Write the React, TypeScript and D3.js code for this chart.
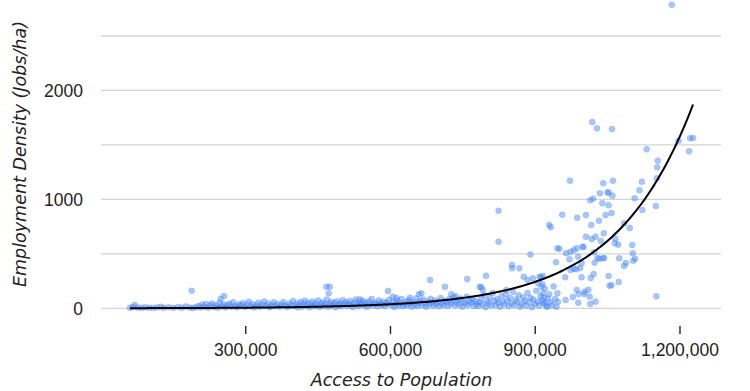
import React from "react";
import * as d3 from "d3";

// Access to population (thousands of people) for each zone
const accessK: number[] = [
  60, 66, 70, 76, 84, 92, 100, 108, 116, 124, 130, 140, 150, 160, 168, 176, 184, 190, 196, 188,
  248, 255,
  202, 206, 210, 214, 218, 222, 226, 230, 234, 238, 242, 246, 250, 254, 258, 262, 266, 270, 274, 278,
  282, 286, 290, 294, 298, 302, 306, 310, 314, 318, 322, 326, 330, 334, 338, 342, 346, 350, 354, 358,
  362, 366, 370, 374, 378, 382, 386, 390, 394, 398,
  467, 474, 472, 536, 595, 605, 612,
  402, 405, 408, 411, 414, 417, 420, 423, 426, 429, 432, 435, 438, 441, 444, 447, 450, 453, 456, 459,
  462, 465, 468, 471, 474, 477, 480, 483, 486, 489, 492, 495, 498, 501, 504, 507, 510, 513, 516, 519,
  522, 525, 528, 531, 534, 537, 540, 543, 546, 549, 552, 555, 558, 561, 564, 567, 570, 573, 576, 579,
  582, 585, 588, 591, 594, 597,
  640, 659, 664, 682, 713, 726, 735, 759,
  602, 605, 608, 611, 614, 617, 620, 623, 626, 629, 632, 635, 638, 641, 644, 647, 650, 653, 656, 659,
  662, 665, 668, 671, 674, 677, 680, 683, 686, 689, 692, 695, 698, 701, 704, 707, 710, 713, 716, 719,
  722, 725, 728, 731, 734, 737, 740, 743, 746, 749, 752, 755, 758, 761, 764, 767, 770, 773, 776, 779,
  824, 824, 785, 788, 791, 798, 840, 852, 852, 867, 876, 884, 890, 895, 909, 916, 906, 913, 916, 929,
  932, 943, 946, 946,
  782, 785, 788, 791, 794, 797, 800, 803, 806, 809, 812, 815, 818, 821, 824, 827, 830, 833, 836, 839,
  842, 845, 848, 851, 854, 857, 860, 863, 866, 869, 872, 875, 878, 881, 884, 887, 890, 893, 896, 899,
  902, 905, 908, 911, 914, 917, 920, 923, 926, 929, 932, 935, 938, 941, 944, 947,
  912, 915, 918, 920, 925,
  1183, 1018, 1028, 1059, 1131, 1197, 1221, 1227, 1219, 1154, 1153, 1152, 972, 1041, 1061, 1121,
  1034, 1050, 1052, 1060, 1116, 1106, 1014, 1020, 1039, 1052, 956, 987, 1005, 1046, 1058, 1122, 1150,
  1016, 1032, 1084, 1096, 1005, 1017, 1025, 1036, 1042, 1066, 1065, 1072, 1101, 950, 964, 973, 980,
  986, 998, 1000, 989, 971, 996, 1022, 1029, 1033, 1040, 1043, 1023, 1074, 1103, 1107, 1102, 1088,
  1084, 973, 980, 993, 985, 962, 996, 1015, 1021, 1052, 1073, 1054, 1058, 986, 990, 1002, 1010, 1002,
  978, 963, 989, 1013, 1014, 1025, 1151,
];

// Employment density (jobs per hectare) for each zone, same order
const density: number[] = [
  5, 12, 30, 8, 4, 10, 6, 3, 8, 14, 5, 10, 4, 12, 6, 16, 8, 2, 10, 160,
  88, 113,
  20, 8, 35, 14, 40, 5, 25, 45, 12, 30, 6, 50, 18, 35, 8, 28, 42, 15, 55, 22,
  10, 38, 25, 48, 12, 30, 60, 18, 40, 8, 26, 52, 15, 35, 62, 20, 45, 10, 30, 55,
  22, 40, 14, 32, 58, 25, 12, 44, 28, 66,
  198, 198, 138, 83, 159, 106, 95,
  20, 45, 8, 32, 60, 15, 40, 70, 25, 50, 10, 35, 62, 18, 45, 28, 72, 12, 38, 55,
  22, 42, 80, 15, 35, 58, 25, 48, 10, 65, 30, 45, 18, 75, 38, 55, 22, 42, 68, 30,
  12, 50, 80, 35, 20, 58, 40, 70, 25, 48, 15, 62, 35, 85, 28, 52, 40, 18, 72, 45,
  30, 60, 22, 50, 38, 78,
  97, 129, 138, 260, 198, 129, 110, 269,
  30, 55, 12, 42, 70, 25, 48, 85, 18, 38, 60, 28, 75, 45, 15, 58, 35, 90, 22, 50,
  68, 30, 80, 42, 15, 62, 35, 88, 50, 25, 72, 40, 58, 18, 95, 45, 30, 70, 55, 22,
  85, 40, 62, 100, 28, 50, 75, 35, 90, 15, 60, 45, 105, 30, 70, 52, 88, 20, 65, 40,
  896, 611, 198, 193, 168, 299, 168, 397, 367, 367, 290, 260, 494, 275, 290, 297, 230, 198, 138, 765,
  744, 422, 551, 138,
  20, 55, 90, 35, 120, 10, 65, 45, 100, 25, 140, 70, 30, 85, 50, 15, 110, 60, 35, 130,
  75, 20, 95, 45, 150, 30, 80, 60, 120, 15, 40, 100, 70, 25, 140, 55, 95, 10, 80, 40,
  160, 60, 25, 110, 75, 45, 180, 20, 90, 130, 55, 30, 200, 85, 15, 60,
  285, 220, 100, 50, 15,
  2787, 1710, 1652, 1646, 1460, 1539, 1561, 1563, 1441, 1355, 1294, 1193, 1171, 1148, 1171, 1162,
  1056, 1065, 1061, 1034, 1083, 1010, 991, 1006, 964, 946, 859, 832, 856, 856, 875, 902, 939,
  765, 804, 780, 737, 657, 636, 657, 618, 689, 639, 597, 584, 581, 547, 505, 520, 532,
  551, 565, 563, 474, 450, 413, 514, 462, 455, 459, 462, 419, 459, 437, 455, 505, 416,
  388, 352, 364, 370, 358, 285, 285, 278, 315, 297, 241, 207, 211, 168, 131, 131, 171, 152,
  104, 76, 51, 106, 39, 61, 110,
];

// Exponential trend line: density = A * exp(B * access)
const TREND_A = 0.885;
const TREND_B = 6.24e-6;

const xTicks: number[] = [300000, 600000, 900000, 1200000];
const yGrid: number[] = [0, 500, 1000, 1500, 2000, 2500];
const yLabels: number[] = [0, 1000, 2000];

const W = 750;
const H = 391;

export default function App() {
  const x = d3.scaleLinear().domain([0, 1285000]).range([101, 721]);
  const y = d3.scaleLinear().domain([0, 2500]).range([308.3, 36]);

  const points = accessK.map((a, i) => ({ a: a * 1000, d: density[i] }));
  const [xMin, xMax] = d3.extent(points, (p) => p.a) as [number, number];
  const trendPts = d3.range(0, 201).map((k) => {
    const a = xMin + ((xMax - xMin) * k) / 200;
    return [a, TREND_A * Math.exp(TREND_B * a)] as [number, number];
  });
  const line = d3
    .line<[number, number]>()
    .x((p) => x(p[0]))
    .y((p) => y(p[1]))
    .curve(d3.curveMonotoneX);

  const fmt = d3.format(",");

  return (
    <svg
      width={W}
      height={H}
      style={{ position: "absolute", left: 0, top: 0, background: "#fff" }}
    >
      {yGrid.map((v) => (
        <line
          key={v}
          x1={x.range()[0]}
          x2={x.range()[1]}
          y1={y(v)}
          y2={y(v)}
          stroke="#d4d4d4"
          strokeWidth={1.3}
        />
      ))}
      {yLabels.map((v) => (
        <text
          key={v}
          x={83}
          y={y(v)}
          dy="0.36em"
          textAnchor="end"
          fontFamily="'Liberation Sans', Arial, sans-serif"
          fontSize={17.5}
          fill="#222"
        >
          {v}
        </text>
      ))}
      {xTicks.map((v) => (
        <g key={v}>
          <line x1={x(v)} x2={x(v)} y1={326} y2={334} stroke="#222" strokeWidth={1.4} />
          <text
            x={x(v)}
            y={356}
            textAnchor="middle"
            fontFamily="'Liberation Sans', Arial, sans-serif"
            fontSize={17.5}
            fill="#222"
          >
            {fmt(v)}
          </text>
        </g>
      ))}
      <g>
        {points.map((p, i) => (
          <circle
            key={i}
            cx={x(p.a)}
            cy={y(p.d)}
            r={3}
            fill="#4a88f7"
            fillOpacity={0.48}
            stroke="#4a88f7"
            strokeOpacity={0.3}
            strokeWidth={0.8}
          />
        ))}
      </g>
      <path d={line(trendPts) || ""} fill="none" stroke="#000" strokeWidth={2} />
      <text
        x={401.5}
        y={386}
        textAnchor="middle"
        fontFamily="'DejaVu Sans', Verdana, sans-serif"
        fontStyle="italic"
        fontSize={17.5}
        fill="#222"
      >
        Access to Population
      </text>
      <text
        transform={`translate(26,154) rotate(-90)`}
        textAnchor="middle"
        fontFamily="'DejaVu Sans', Verdana, sans-serif"
        fontStyle="italic"
        fontSize={17.5}
        fill="#222"
      >
        Employment Density (Jobs/ha)
      </text>
    </svg>
  );
}
